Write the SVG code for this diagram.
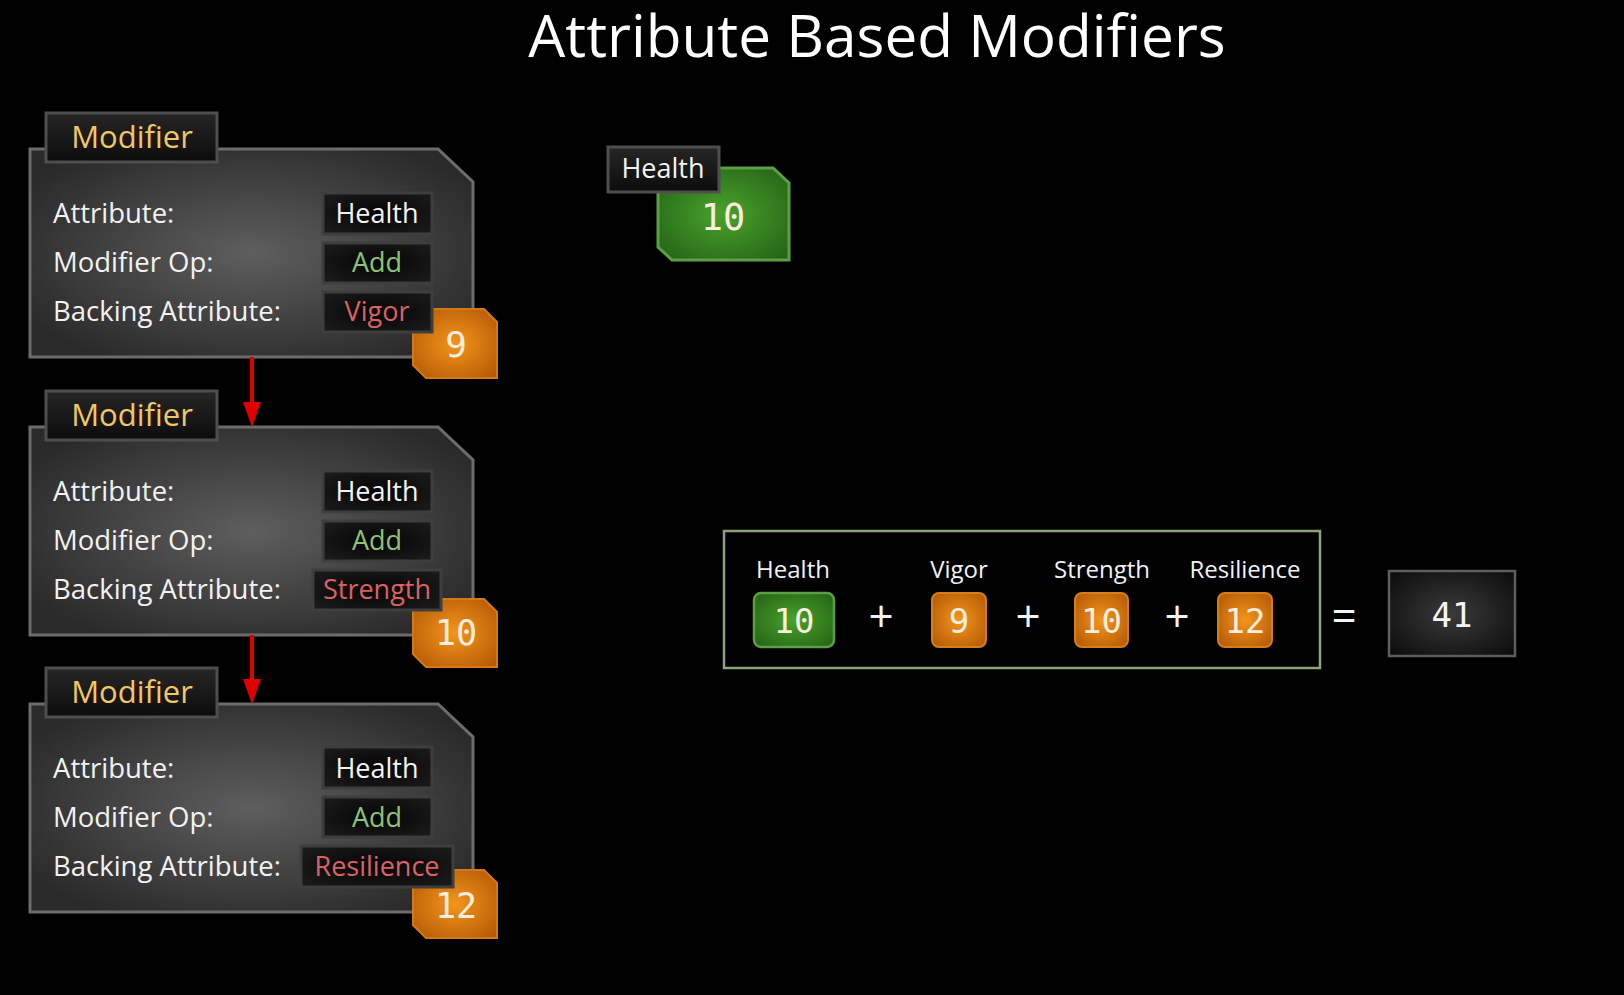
<svg xmlns="http://www.w3.org/2000/svg" width="1624" height="995" viewBox="0 0 1624 995">
<defs>
<radialGradient id="gPanel" cx="0.5" cy="0.5" r="0.6">
<stop offset="0" stop-color="#5e5e5e"/>
<stop offset="1" stop-color="#2a2a2a"/>
</radialGradient>
<linearGradient id="gTab" x1="0" y1="0" x2="0" y2="1">
<stop offset="0" stop-color="#262626"/>
<stop offset="1" stop-color="#0c0c0c"/>
</linearGradient>
<radialGradient id="gBox" cx="0.5" cy="0.5" r="0.7">
<stop offset="0" stop-color="#050505"/>
<stop offset="1" stop-color="#1c1c1c"/>
</radialGradient>
<radialGradient id="gOrange" cx="0.5" cy="0.5" r="0.65">
<stop offset="0" stop-color="#f3951c"/>
<stop offset="1" stop-color="#b65a06"/>
</radialGradient>
<radialGradient id="gGreen" cx="0.5" cy="0.5" r="0.65">
<stop offset="0" stop-color="#4aa22c"/>
<stop offset="1" stop-color="#256516"/>
</radialGradient>
<radialGradient id="gResult" cx="0.5" cy="0.5" r="0.65">
<stop offset="0" stop-color="#3a3a3a"/>
<stop offset="1" stop-color="#0e0e0e"/>
</radialGradient>
<style>
.panel{fill:url(#gPanel);stroke:#6c6c6c;stroke-width:3}
.tab{fill:url(#gTab);stroke:#4e4e4e;stroke-width:3}
.vbox{fill:url(#gBox);stroke:#3e3e3e;stroke-width:3}
.badge{fill:url(#gOrange);stroke:#d27a18;stroke-width:2}
.gbox{fill:url(#gGreen);stroke:#5c9e44;stroke-width:3}
.sans{font-family:"Open Sans","Liberation Sans",sans-serif}
.mono{font-family:"DejaVu Sans Mono","Liberation Mono",monospace}
.lbl{font-size:27.5px;fill:#f2f2f2}
.tabt{font-size:31px;fill:#f2c763;text-anchor:middle}
.val{font-size:27px;text-anchor:middle}
.white{fill:#f4f4f4}
.add{fill:#8cc476}
.back{fill:#dc6262}
.num{fill:#fbeede;text-anchor:middle}
.conn{stroke:#e00000;stroke-width:4;fill:none}
.arrowhead{fill:#e00000}
</style>
</defs>
<rect x="0" y="0" width="1624" height="995" fill="#000"/>

<text id="title" class="sans" x="877" y="57" font-size="58.5" fill="#fff" text-anchor="middle">Attribute Based Modifiers</text>

<g id="modifier1">
<path class="panel" d="M30,149 H438 L473,182 V357 H30 Z"/>
<rect class="tab" x="46" y="113" width="171" height="49"/>
<text class="sans tabt" x="132" y="148">Modifier</text>
<text class="sans lbl" x="53" y="223">Attribute:</text>
<text class="sans lbl" x="53" y="272">Modifier Op:</text>
<text class="sans lbl" x="53" y="321">Backing Attribute:</text>
<path class="badge" d="M413,309 H484 L497,322 V378 H426 L413,365 Z"/>
<text class="mono num" x="456" y="357" font-size="36">9</text>
<rect class="vbox" x="323" y="193" width="109" height="41"/>
<text class="sans val white" x="377" y="223">Health</text>
<rect class="vbox" x="323" y="243" width="109" height="40"/>
<text class="sans val add" x="377" y="272">Add</text>
<rect class="vbox" x="323" y="292" width="109" height="40"/>
<text class="sans val back" x="377" y="321">Vigor</text>
</g>

<g id="modifier2">
<path class="panel" d="M30,427 H438 L473,460 V635 H30 Z"/>
<rect class="tab" x="46" y="391" width="171" height="49"/>
<text class="sans tabt" x="132" y="426">Modifier</text>
<text class="sans lbl" x="53" y="501">Attribute:</text>
<text class="sans lbl" x="53" y="550">Modifier Op:</text>
<text class="sans lbl" x="53" y="599">Backing Attribute:</text>
<path class="badge" d="M413,599 H484 L497,612 V667 H426 L413,654 Z"/>
<text class="mono num" x="456" y="645" font-size="35">10</text>
<rect class="vbox" x="323" y="471" width="109" height="41"/>
<text class="sans val white" x="377" y="501">Health</text>
<rect class="vbox" x="323" y="521" width="109" height="40"/>
<text class="sans val add" x="377" y="550">Add</text>
<rect class="vbox" x="313" y="570" width="128" height="40"/>
<text class="sans val back" x="377" y="599">Strength</text>
</g>

<g id="modifier3">
<path class="panel" d="M30,704 H438 L473,737 V912 H30 Z"/>
<rect class="tab" x="46" y="668" width="171" height="49"/>
<text class="sans tabt" x="132" y="703">Modifier</text>
<text class="sans lbl" x="53" y="778">Attribute:</text>
<text class="sans lbl" x="53" y="827">Modifier Op:</text>
<text class="sans lbl" x="53" y="876">Backing Attribute:</text>
<path class="badge" d="M413,870 H484 L497,883 V938 H426 L413,925 Z"/>
<text class="mono num" x="456" y="918" font-size="35">12</text>
<rect class="vbox" x="323" y="747" width="109" height="41"/>
<text class="sans val white" x="377" y="778">Health</text>
<rect class="vbox" x="323" y="797" width="109" height="40"/>
<text class="sans val add" x="377" y="827">Add</text>
<rect class="vbox" x="301" y="846" width="152" height="41"/>
<text class="sans val back" x="377" y="876">Resilience</text>
</g>

<g id="connectors">
<line class="conn" x1="252" y1="357" x2="252" y2="405"/>
<polygon class="arrowhead" points="243,402 261,402 252,427"/>
<line class="conn" x1="252" y1="635" x2="252" y2="682"/>
<polygon class="arrowhead" points="243,679 261,679 252,704"/>
</g>

<g id="health-attr">
<path class="gbox" d="M658,168 H773 L789,183 V260 H672 L658,247 Z"/>
<text class="mono num" x="723" y="230" font-size="37">10</text>
<rect class="tab" x="608" y="147" width="111" height="45"/>
<text class="sans val white" x="663" y="178">Health</text>
</g>

<g id="equation">
<rect x="724" y="531" width="596" height="137" fill="none" stroke="#8aa47a" stroke-width="2.5"/>
<text class="sans" x="793" y="578" font-size="24" fill="#f2f2f2" text-anchor="middle">Health</text>
<text class="sans" x="959" y="578" font-size="24" fill="#f2f2f2" text-anchor="middle">Vigor</text>
<text class="sans" x="1102" y="578" font-size="24" fill="#f2f2f2" text-anchor="middle">Strength</text>
<text class="sans" x="1245" y="578" font-size="24" fill="#f2f2f2" text-anchor="middle">Resilience</text>
<rect x="754" y="593" width="80" height="54" rx="7" fill="url(#gGreen)" stroke="#5c9e44" stroke-width="2.5"/>
<text class="mono num" x="794" y="633" font-size="34">10</text>
<text class="sans" x="881" y="632" font-size="44" fill="#f4f4f4" text-anchor="middle">+</text>
<rect x="932" y="593" width="54" height="54" rx="7" fill="url(#gOrange)" stroke="#d47e1c" stroke-width="2"/>
<text class="mono num" x="959" y="633" font-size="34">9</text>
<text class="sans" x="1028" y="632" font-size="44" fill="#f4f4f4" text-anchor="middle">+</text>
<rect x="1075" y="593" width="53" height="54" rx="7" fill="url(#gOrange)" stroke="#d47e1c" stroke-width="2"/>
<text class="mono num" x="1101.5" y="633" font-size="34">10</text>
<text class="sans" x="1177" y="632" font-size="44" fill="#f4f4f4" text-anchor="middle">+</text>
<rect x="1218" y="593" width="54" height="54" rx="7" fill="url(#gOrange)" stroke="#d47e1c" stroke-width="2"/>
<text class="mono num" x="1245" y="633" font-size="34">12</text>
</g>

<text id="equals" class="sans" x="1344" y="632" font-size="44" fill="#f4f4f4" text-anchor="middle">=</text>

<g id="result">
<rect x="1389" y="571" width="126" height="85" fill="url(#gResult)" stroke="#5e5e5e" stroke-width="2.5"/>
<text class="mono" x="1452" y="627" font-size="34" fill="#f4f4f4" text-anchor="middle">41</text>
</g>
</svg>
